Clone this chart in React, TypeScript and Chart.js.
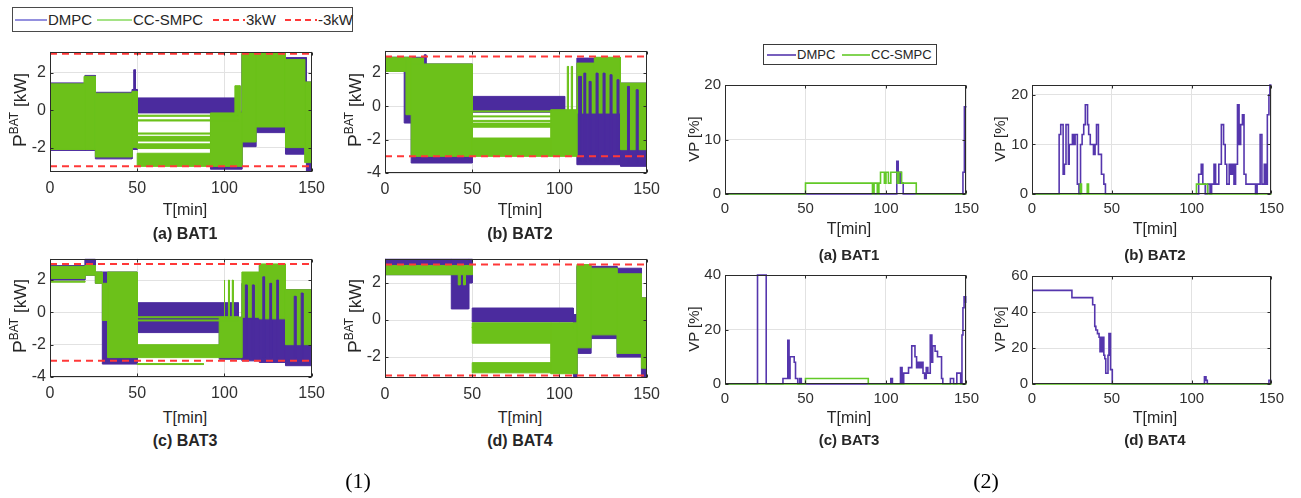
import React, { useEffect, useRef } from 'react';
import { Chart, registerables } from 'chart.js';

Chart.register(...registerables);

// ---------------- shared axis data ----------------
const timeTicks = [0, 50, 100, 150];
const powerLimits = [3, -3];

// ---------------- left figure: P_BAT [kW] envelopes ----------------
// every band: [tStart, tEnd, low, high]
const bat1Dmpc = [
  [0, 20, -2.15, 1.45], [20, 26, -2.15, 1.85], [26, 47, -2.6, 0.95], [47, 50, -2.1, 1.1],
  [48, 49, 0.4, 2.15], [50, 108, -0.15, 0.65], [92, 110, -3.15, -0.1], [110, 118, -1.95, 3.0],
  [118, 135, -1.2, 3.0], [135, 147, -2.35, 2.8], [147, 150, -3.35, 1.5],
];
const bat1Cc = [
  [0, 20, -2.1, 1.4], [19.5, 26, -2.1, 1.8], [26, 47, -2.5, 0.9], [47, 50, -2.0, 1.0],
  [50, 108, -0.33, -0.27], [50, 108, -0.58, -0.52], [50, 92, -1.28, -1.22], [50, 92, -1.65, -1.4],
  [50, 92, -2.05, -1.8], [50, 92, -3.0, -2.3], [92, 110, -3.0, -0.15], [106, 109, -0.15, 1.3],
  [110, 118, -1.7, 3.05], [118, 135, -0.9, 3.05], [135, 146, -2.0, 2.7], [146, 150, -2.8, 1.5],
];
const bat1DmpcFront: number[][] = [];

const bat2Dmpc = [
  [0, 11, 2.1, 2.95], [11, 15, -1.0, 2.95], [15, 50, -3.4, 2.55], [15, 22, 2.5, 2.95],
  [22.5, 23.5, 1.0, 3.1], [50, 103, -0.35, 0.6], [110, 135, -3.5, 2.9], [135, 150, -3.6, 1.4],
];
const bat2Cc = [
  [0, 12, 2.1, 2.95], [12, 15, -0.5, 2.95], [15, 50, -3.0, 2.55], [15, 22, 2.5, 2.9],
  [50, 95, -0.33, -0.27], [50, 95, -0.63, -0.57], [50, 95, -0.9, -0.84], [50, 95, -1.25, -1.0],
  [50, 95, -3.0, -1.9], [95, 110, -3.0, -0.2], [104.5, 105.2, -0.2, 2.4], [106.8, 107.5, -0.2, 2.4],
  [110, 120, -0.4, 2.6], [120, 135, -0.4, 2.95], [135, 150, -2.6, 1.4],
];
const bat2DmpcFront = [
  [111, 112.5, -3.3, 1.8], [114, 115, -3.3, 2.0], [117, 118, -3.3, 1.5], [121, 122, -3.3, 2.0],
  [125, 126, -3.3, 2.0], [129, 130, -3.3, 1.9], [133, 134, -3.3, 1.6], [139, 140, -3.4, 1.2],
  [144, 145, -3.4, 1.0],
];

const bat3Dmpc = [
  [0, 20, 2.0, 2.9], [20, 26, 2.3, 3.3], [26, 30, 1.8, 2.5], [30, 50, -3.2, 2.5],
  [50, 108, -1.25, 0.6], [97, 110, -2.9, -0.3], [110, 120, -3.0, 1.8], [120, 135, -3.1, 2.9],
  [135, 150, -3.3, 1.4],
];
const bat3Cc = [
  [0, 20, 2.1, 2.85], [0, 20, 1.87, 1.93], [20, 26, 2.3, 2.9], [26, 30, 1.8, 2.5],
  [30, 33, -0.5, 1.8], [33, 50, -2.8, 2.5], [50, 108, -0.33, -0.27], [50, 108, -0.53, -0.47],
  [50, 97, -2.8, -2.0], [50, 88, -3.23, -3.17], [97, 110, -2.8, -0.3], [99.8, 100.3, -0.3, 2.0],
  [102.3, 102.8, -0.3, 2.0], [104.5, 105, -0.3, 2.0], [110, 120, -0.3, 2.5], [120, 135, -0.4, 3.0],
  [135, 150, -2.0, 1.4],
];
const bat3DmpcFront = [
  [112, 113, -2.8, 1.7], [116, 117, -2.8, 1.7], [122, 123, -2.8, 2.2], [126, 127, -2.8, 1.8],
  [130, 131, -2.8, 2.0], [140, 141, -2.8, 1.0], [144, 145, -3.0, 1.2],
];

const bat4Dmpc = [
  [0, 38, 2.45, 3.3], [38, 48, 0.6, 3.3], [48, 50, 2.0, 3.3], [50, 108, -0.1, 0.65],
  [108, 110, -3.05, 0.3], [110, 118, -1.8, 2.9], [118, 133, -1.0, 2.9], [133, 147, -2.0, 2.8],
  [147, 150, -3.05, 1.2],
];
const bat4Cc = [
  [0, 50, 2.45, 2.95], [42, 43, 1.9, 2.45], [45, 46, 1.9, 2.45], [50, 108, -0.43, -0.37],
  [50, 95, -1.25, -0.15], [50, 95, -2.85, -2.3], [95, 110, -2.9, -0.15], [110, 118, -1.5, 3.0],
  [118, 133, -0.8, 2.8], [133, 147, -1.8, 2.5], [147, 150, -2.6, 1.2],
];
const bat4DmpcFront: number[][] = [];

const bat1YRange = [-3.3, 3.12];
const bat2YRange = [-4, 3.35];
const bat3YRange = [-4, 3.33];
const bat4YRange = [-3.13, 3.32];
const bat1YTicks = [-2, 0, 2];
const bat2YTicks = [-4, -2, 0, 2];
const bat3YTicks = [-4, -2, 0, 2];
const bat4YTicks = [-2, 0, 2];

// ---------------- right figure: VP [%] step series ----------------
const vp1DmpcT = [0, 106.7, 107.6, 108.6, 109.4, 110.7, 147.8, 148.7, 150];
const vp1DmpcV = [0, 6, 2, 4, 2, 0, 4, 16, 16];
const vp1CcT = [0, 50, 91.6, 92.6, 94.6, 95.6, 96.6, 99, 100, 101.5, 103, 107, 108, 109.7, 118.8, 150];
const vp1CcV = [0, 2, 0, 2, 0, 2, 4, 2, 4, 2, 4, 2, 4, 2, 0, 0];

const vp2DmpcT = [
  0, 17, 18, 19.5, 20.3, 21.3, 22.8, 23.3, 25.3, 26.3, 27, 28.4, 29.4, 30.4, 31.4, 32.4, 33.4, 34.8,
  35.5, 36.5, 38.5, 39.5, 40.4, 41.6, 43.5, 45, 46,
  104.4, 106, 107, 108.5, 110, 111.5, 112.5, 114, 115, 117, 118.6, 120, 121, 122, 123.5, 124.5, 125.5,
  126.5, 127.5, 128.7, 129.7, 130.7, 131.8, 132.8, 134, 140, 141, 142.9, 144, 145.5, 146.5, 147.4,
  148.4, 149, 150,
];
const vp2DmpcV = [
  0, 12, 14, 4, 6, 14, 6, 10, 12, 10, 12, 2, 0, 10, 12, 14, 18, 14,
  12, 10, 8, 10, 14, 8, 4, 2, 0,
  4, 6, 2, 0, 2, 0, 2, 6, 2, 6, 14, 10, 6, 2, 6, 4, 6,
  2, 6, 18, 10, 14, 16, 4, 2, 0, 2, 12, 2, 6, 2, 16,
  20, 22, 22,
];
const vp2CcT = [0, 30.2, 31, 34.6, 35.4, 103, 110, 150];
const vp2CcV = [0, 2, 0, 2, 0, 2, 0, 0];

const vp3DmpcT = [
  0, 20.2, 25.6, 36, 39, 39.8, 40.4, 43, 43.8, 45.2, 46.4, 47.4, 103, 104, 109, 110, 111, 114, 116,
  118, 119, 120, 121, 122, 123, 124, 125, 126, 127.5, 128.5, 129, 130.5, 132, 134.5, 135.3, 140, 142,
  144, 146.4, 147.2, 147.8, 148.5, 149.5, 150,
];
const vp3DmpcV = [
  0, 40, 0, 2, 16, 2, 10, 8, 2, 0, 2, 0, 2, 0, 6, 0, 4, 6, 14,
  10, 6, 8, 6, 8, 4, 2, 6, 4, 18, 8, 14, 12, 10, 2, 0, 2, 0,
  4, 0, 18, 28, 32, 30, 30,
];
const vp3CcT = [0, 50, 89, 150];
const vp3CcV = [0, 2, 0, 0];

const vp4DmpcT = [
  0, 25, 38, 39.3, 40, 41, 42, 42.6, 43.2, 43.8, 44.4, 45, 45.6, 46.2, 47.6, 48.2, 49.2, 50.3, 108,
  109, 109.8, 148.4, 150,
];
const vp4DmpcV = [
  52, 48, 44, 32, 30, 28, 26, 18, 26, 18, 26, 16, 14, 6, 16, 28, 8, 0, 4,
  2, 0, 2, 2,
];
const vp4CcT = [0, 150];
const vp4CcV = [0, 0];

const vp1YTicks = [0, 10, 20];
const vp2YTicks = [0, 10, 20];
const vp3YTicks = [0, 20, 40];
const vp4YTicks = [0, 20, 40, 60];
const vp1YMax = 20;
const vp2YMax = 22;
const vp3YMax = 40;
const vp4YMax = 60;

// ---------------- styling ----------------
const FONT = '"Liberation Sans", Arial, sans-serif';
const TICK = '#303030';
const GRID = '#e2e2e2';
const PURPLE_FILL = '#4b2b9e';
const GREEN_FILL = '#6cc11a';
const PURPLE_LINE = '#5536ad';
const GREEN_LINE = '#62c927';
const RED = '#ff3838';
const PAD_L = 52;
const PAD_R = 12;
const PAD_T = 10;
const PAD_B = 30;

const boxPlugin = {
  id: 'matlabBox',
  afterDatasetsDraw(chart: any) {
    const { ctx, chartArea: a, scales } = chart;
    ctx.save();
    ctx.strokeStyle = '#2b2b2b';
    ctx.lineWidth = 1;
    const L = Math.round(a.left) + 0.5;
    const T = Math.round(a.top) + 0.5;
    const R = Math.round(a.right) - 0.5;
    const B = Math.round(a.bottom) - 0.5;
    ctx.strokeRect(L, T, R - L, B - T);
    ctx.beginPath();
    for (const t of scales.x.ticks) {
      const px = Math.round(scales.x.getPixelForValue(t.value)) + 0.5;
      ctx.moveTo(px, B); ctx.lineTo(px, B - 3);
      ctx.moveTo(px, T); ctx.lineTo(px, T + 3);
    }
    for (const t of scales.y.ticks) {
      const py = Math.round(scales.y.getPixelForValue(t.value)) + 0.5;
      ctx.moveTo(L, py); ctx.lineTo(L + 3, py);
      ctx.moveTo(R, py); ctx.lineTo(R - 3, py);
    }
    ctx.stroke();
    ctx.restore();
  },
};

function bandSets(bands: number[][], color: string, order: number) {
  return bands.map(([t0, t1, lo, hi]) => ({
    data: [
      { x: t0, y: lo }, { x: t0, y: hi }, { x: t1, y: hi }, { x: t1, y: lo }, { x: t0, y: lo },
    ],
    borderColor: color,
    backgroundColor: color,
    borderWidth: 1,
    fill: 'shape',
    pointRadius: 0,
    order,
  }));
}

function stepSet(ts: number[], vs: number[], color: string, order: number) {
  return {
    data: ts.map((t, i) => ({ x: t, y: vs[i] })),
    stepped: true,
    borderColor: color,
    backgroundColor: color,
    borderWidth: 1.6,
    fill: false,
    pointRadius: 0,
    clip: 4,
    order,
  };
}

function makeConfig(datasets: any[], yMin: number, yMax: number, yTicks: number[], fontSize: number, xPad: number) {
  const tickFont = { family: FONT, size: fontSize };
  return {
    type: 'line',
    data: { datasets },
    options: {
      responsive: false,
      animation: false,
      events: [],
      layout: { padding: { top: PAD_T, right: PAD_R, left: 0, bottom: 0 } },
      plugins: { legend: { display: false }, tooltip: { enabled: false } },
      elements: { line: { tension: 0 }, point: { radius: 0 } },
      scales: {
        x: {
          type: 'linear',
          min: 0,
          max: 150,
          afterBuildTicks: (s: any) => { s.ticks = timeTicks.map((v) => ({ value: v })); },
          afterFit: (s: any) => { s.height = PAD_B; },
          grid: { color: GRID, drawTicks: false },
          border: { display: false },
          ticks: { color: TICK, font: tickFont, padding: xPad, maxRotation: 0, autoSkip: false },
        },
        y: {
          type: 'linear',
          min: yMin,
          max: yMax,
          afterBuildTicks: (s: any) => { s.ticks = yTicks.map((v) => ({ value: v })); },
          afterFit: (s: any) => { s.width = PAD_L; },
          grid: { color: GRID, drawTicks: false },
          border: { display: false },
          ticks: { color: TICK, font: tickFont, padding: 4, autoSkip: false },
        },
      },
    },
    plugins: [boxPlugin],
  };
}

function powerConfig(dmpc: number[][], cc: number[][], front: number[][], yr: number[], yTicks: number[]) {
  const limits = powerLimits.map((v) => ({
    data: [{ x: 0, y: v }, { x: 150, y: v }],
    borderColor: RED,
    borderWidth: 2,
    borderDash: [7, 5],
    pointRadius: 0,
    fill: false,
    order: 0,
  }));
  const datasets = [
    ...limits,
    ...bandSets(front, PURPLE_FILL, 1),
    ...bandSets(cc, GREEN_FILL, 2),
    ...bandSets(dmpc, PURPLE_FILL, 3),
  ];
  return makeConfig(datasets, yr[0], yr[1], yTicks, 16, 7);
}

function vpConfig(dT: number[], dV: number[], cT: number[], cV: number[], yMax: number, yTicks: number[]) {
  const datasets = [stepSet(cT, cV, GREEN_LINE, 0), stepSet(dT, dV, PURPLE_LINE, 1)];
  return makeConfig(datasets, 0, yMax, yTicks, 15, 6);
}

function Panel({ rect, build }: { rect: number[]; build: () => any }) {
  const ref = useRef<HTMLCanvasElement>(null);
  const [l, t, r, b] = rect;
  const w = r - l + PAD_L + PAD_R;
  const h = b - t + PAD_T + PAD_B;
  useEffect(() => {
    const chart = new Chart(ref.current as HTMLCanvasElement, build());
    return () => chart.destroy();
  }, []);
  return (
    <canvas
      ref={ref}
      width={w}
      height={h}
      style={{ position: 'absolute', left: l - PAD_L, top: t - PAD_T, width: w, height: h }}
    />
  );
}

function Txt({ x, y, size, bold, rotate, family, children }: any) {
  return (
    <div
      style={{
        position: 'absolute',
        left: x,
        top: y,
        transform: `translate(-50%, -50%)${rotate ? ' rotate(-90deg)' : ''}`,
        fontFamily: family || FONT,
        fontSize: size,
        fontWeight: bold ? 'bold' : 'normal',
        whiteSpace: 'nowrap',
        color: family ? '#000' : '#262626',
        lineHeight: 1,
      }}
    >
      {children}
    </div>
  );
}

function Sample({ x1, x2, y, color, width, dash }: any) {
  return (
    <svg style={{ position: 'absolute', left: x1, top: y - 3, overflow: 'visible' }} width={x2 - x1} height={6}>
      <line x1={0} y1={3} x2={x2 - x1} y2={3} stroke={color} strokeWidth={width} strokeDasharray={dash} />
    </svg>
  );
}

function PLabel({ x, y }: { x: number; y: number }) {
  return (
    <Txt x={x} y={y} size={17} rotate>
      <span style={{ fontSize: 19 }}>P</span>
      <span style={{ fontSize: 12, position: 'relative', top: -8 }}>BAT</span>
      <span> [kW]</span>
    </Txt>
  );
}

export default function App() {
  const left = [
    { rect: [50, 48, 320, 172], build: () => powerConfig(bat1Dmpc, bat1Cc, bat1DmpcFront, bat1YRange, bat1YTicks) },
    { rect: [385, 47, 655, 173], build: () => powerConfig(bat2Dmpc, bat2Cc, bat2DmpcFront, bat2YRange, bat2YTicks) },
    { rect: [50, 255, 320, 377], build: () => powerConfig(bat3Dmpc, bat3Cc, bat3DmpcFront, bat3YRange, bat3YTicks) },
    { rect: [385, 255, 655, 378], build: () => powerConfig(bat4Dmpc, bat4Cc, bat4DmpcFront, bat4YRange, bat4YTicks) },
  ];
  const right = [
    { rect: [725, 82, 973, 194], build: () => vpConfig(vp1DmpcT, vp1DmpcV, vp1CcT, vp1CcV, vp1YMax, vp1YTicks) },
    { rect: [1032, 82, 1278, 194], build: () => vpConfig(vp2DmpcT, vp2DmpcV, vp2CcT, vp2CcV, vp2YMax, vp2YTicks) },
    { rect: [725, 272, 973, 384], build: () => vpConfig(vp3DmpcT, vp3DmpcV, vp3CcT, vp3CcV, vp3YMax, vp3YTicks) },
    { rect: [1032, 273, 1278, 384], build: () => vpConfig(vp4DmpcT, vp4DmpcV, vp4CcT, vp4CcV, vp4YMax, vp4YTicks) },
  ];
  return (
    <div style={{ position: 'absolute', left: 0, top: 0, width: 1301, height: 498, background: '#fff', overflow: 'hidden' }}>
      {left.map((p, i) => <Panel key={'l' + i} rect={p.rect} build={p.build} />)}
      {right.map((p, i) => <Panel key={'r' + i} rect={p.rect} build={p.build} />)}

      {/* left legend */}
      <div style={{ position: 'absolute', left: 12, top: 7, width: 341, height: 25, border: '1px solid #4a4a4a', boxSizing: 'border-box' }} />
      <Sample x1={15} x2={47} y={20} color="#9490de" width={2} />
      <div style={{ position: 'absolute', left: 48, top: 12, fontFamily: FONT, fontSize: 15, color: '#262626', lineHeight: 1 }}>DMPC</div>
      <Sample x1={97} x2={132} y={20} color="#a5e386" width={2} />
      <div style={{ position: 'absolute', left: 133, top: 12, fontFamily: FONT, fontSize: 15, color: '#262626', lineHeight: 1 }}>CC-SMPC</div>
      <Sample x1={213} x2={245} y={20} color={RED} width={2} dash="6 4" />
      <div style={{ position: 'absolute', left: 246, top: 12, fontFamily: FONT, fontSize: 15, color: '#262626', lineHeight: 1 }}>3kW</div>
      <Sample x1={285} x2={317} y={20} color={RED} width={2} dash="6 4" />
      <div style={{ position: 'absolute', left: 318, top: 12, fontFamily: FONT, fontSize: 15, color: '#262626', lineHeight: 1 }}>-3kW</div>

      {/* right legend */}
      <div style={{ position: 'absolute', left: 763, top: 44, width: 174, height: 21, border: '1px solid #3a3a3a', boxSizing: 'border-box' }} />
      <Sample x1={767} x2={796} y={55} color={PURPLE_LINE} width={1.6} />
      <div style={{ position: 'absolute', left: 797, top: 48, fontFamily: FONT, fontSize: 13, color: '#262626', lineHeight: 1 }}>DMPC</div>
      <Sample x1={842} x2={870} y={55} color={GREEN_LINE} width={1.6} />
      <div style={{ position: 'absolute', left: 871, top: 48, fontFamily: FONT, fontSize: 13, color: '#262626', lineHeight: 1 }}>CC-SMPC</div>

      {/* left axis titles and captions */}
      <PLabel x={19} y={110} />
      <PLabel x={354} y={110} />
      <PLabel x={19} y={316} />
      <PLabel x={354} y={316} />
      <Txt x={185} y={210} size={16}>T[min]</Txt>
      <Txt x={520} y={210} size={16}>T[min]</Txt>
      <Txt x={185} y={418} size={16}>T[min]</Txt>
      <Txt x={520} y={418} size={16}>T[min]</Txt>
      <Txt x={185} y={234} size={16} bold>(a) BAT1</Txt>
      <Txt x={520} y={234} size={16} bold>(b) BAT2</Txt>
      <Txt x={185} y={441} size={16} bold>(c) BAT3</Txt>
      <Txt x={520} y={441} size={16} bold>(d) BAT4</Txt>

      {/* right axis titles and captions */}
      <Txt x={693} y={139} size={15} rotate>VP [%]</Txt>
      <Txt x={999} y={139} size={15} rotate>VP [%]</Txt>
      <Txt x={693} y={329} size={15} rotate>VP [%]</Txt>
      <Txt x={999} y={329} size={15} rotate>VP [%]</Txt>
      <Txt x={849} y={229} size={16}>T[min]</Txt>
      <Txt x={1155} y={229} size={16}>T[min]</Txt>
      <Txt x={849} y={418} size={16}>T[min]</Txt>
      <Txt x={1155} y={418} size={16}>T[min]</Txt>
      <Txt x={849} y={254} size={15} bold>(a) BAT1</Txt>
      <Txt x={1155} y={254} size={15} bold>(b) BAT2</Txt>
      <Txt x={849} y={439} size={15} bold>(c) BAT3</Txt>
      <Txt x={1155} y={439} size={15} bold>(d) BAT4</Txt>

      {/* figure captions */}
      <Txt x={358} y={481} size={22} family='"Liberation Serif", "Times New Roman", serif'>(1)</Txt>
      <Txt x={986} y={481} size={22} family='"Liberation Serif", "Times New Roman", serif'>(2)</Txt>
    </div>
  );
}
